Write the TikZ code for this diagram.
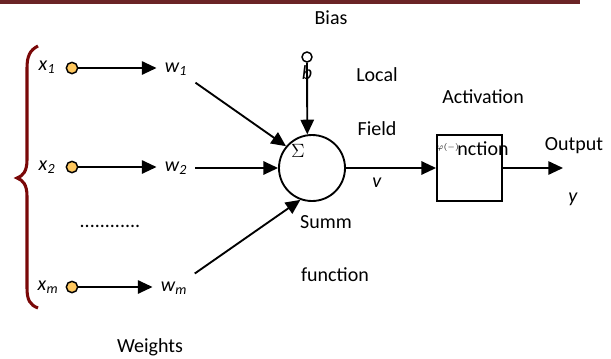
\documentclass[tikz,border=0pt]{standalone}
\usepackage{fontspec}
\setmainfont{Carlito}
\usetikzlibrary{arrows.meta}
\definecolor{barred}{RGB}{107,36,38}
\definecolor{bracered}{RGB}{122,8,8}
\definecolor{inyellow}{RGB}{255,200,95}
\newcommand{\isub}[2]{\textit{#1}\textsubscript{\textit{#2}}}
\tikzstyle{lbl}=[font=\fontsize{15}{18}\selectfont,inner sep=0pt]
\tikzstyle{weight}=[font=\fontsize{15}{18}\selectfont,inner sep=6pt]
\tikzstyle{inputdot}=[circle,draw,line width=1.1pt,fill=inyellow,minimum size=8.5pt,inner sep=0pt]
\tikzstyle{arr}=[line width=1.4pt,-{Triangle[length=11pt,width=10pt]}]

\begin{document}
\begin{tikzpicture}[x=0.75pt,y=-0.75pt]  % 1 unit = 1 px, y downwards
\useasboundingbox (0,0) rectangle (611,358);
\fill[barred] (0,0) rectangle (580,4);

% inputs
\node[lbl] (x1) at (47,67) {\isub{x}{1}};
\node[lbl] (x2) at (47,167) {\isub{x}{2}};
\node[lbl] (xm) at (48,287) {\isub{x}{m}};
\node[inputdot] (in1) at (72,68) {};
\node[inputdot] (in2) at (72,167) {};
\node[inputdot] (inm) at (72,287) {};
\node[weight] (w1) at (176,69) {\isub{w}{1}};
\node[weight] (w2) at (176,168) {\isub{w}{2}};
\node[weight] (wm) at (174,288) {\isub{w}{m}};
\node[lbl] (dots) at (110,226) {............};
\node[lbl] (weights) at (150,347) {Weights};

\draw[arr] (in1) -- (in1 -| w1.west);
\draw[arr] (in2) -- (in2 -| w2.west);
\draw[arr] (inm) -- (inm -| wm.west);

\draw[bracered,line width=2.3pt] (38,46) .. controls (30,50) and (27,56) .. (27,68)
      -- (27,160) .. controls (27,171) and (23,176) .. (17,178)
      .. controls (23,180) and (27,185) .. (27,196)
      -- (27,288) .. controls (27,300) and (30,305) .. (38,308);

% summing junction
\node[circle,draw,line width=1.4pt,minimum size=49.5pt,inner sep=0pt] (sum) at (312,168) {};
\node[lbl] (sigma) at (298,151) {$\Sigma$};
\draw[arr] (w1) -- (sum.140);
\draw[arr] (w2) -- (sum);
\draw[arr] (wm) -- (sum.250);

\node[circle,draw,line width=1.1pt,fill=white,minimum size=7.5pt,inner sep=0pt] (bias) at (307,57) {};
\draw[arr] (bias) -- (sum.98);
\node[lbl] (b) at (307,73) {\textit{b}};
\node[lbl] (biaslbl) at (331,18) {Bias};

\node[lbl] (local) at (377,75) {Local};
\node[lbl] (field) at (377,129) {Field};
\node[lbl] (v) at (377,183) {\textit{v}};
\node[lbl] (summ) at (326,222) {Summ};
\node[lbl] (function) at (335,275) {function};

% activation
\node[draw,line width=1.4pt,minimum width=48.75pt,minimum height=49.5pt] (act) at (469.5,168) {};
\node[lbl] (activation) at (483,97) {Activation};
\node[lbl] (phi) at (448,147) {\fontsize{6.5}{7}\selectfont$\varphi(-)$};
\node[lbl] (nction) at (483,149) {nction};
\draw[arr] (sum) -- (act);

\coordinate (out) at (563,168);
\draw[arr] (act) -- (out);
\node[lbl] (output) at (574,146) {Output};
\node[lbl] (y) at (573,199) {\textit{y}};
\end{tikzpicture}
\end{document}
